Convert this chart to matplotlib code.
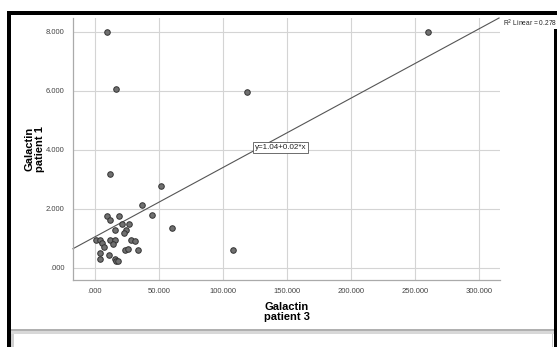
import numpy as np
import matplotlib
matplotlib.use("Agg")
import matplotlib.pyplot as plt
from matplotlib.patches import Rectangle

plt.rcParams["font.family"] = ["Liberation Sans", "DejaVu Sans"]

# ---- datos ----
galactin_p3 = [9.9, 16.9, 119.0, 260.0, 11.7, 52.1, 37.2, 45.0, 9.6, 12.0,
               19.0, 21.1, 26.6, 60.7, 16.1, 24.2, 22.9, 0.8, 3.9, 5.7,
               7.0, 12.0, 15.9, 14.3, 28.1, 31.5, 23.4, 26.3, 33.8, 4.2,
               3.9, 10.9, 15.6, 16.7, 18.5, 108.0]
galactin_p1 = [7.99, 6.04, 5.96, 7.99, 3.16, 2.76, 2.11, 1.77, 1.76, 1.60,
               1.76, 1.49, 1.49, 1.33, 1.27, 1.27, 1.16, 0.92, 0.92, 0.84,
               0.71, 0.93, 0.93, 0.81, 0.93, 0.90, 0.60, 0.64, 0.59, 0.50,
               0.29, 0.42, 0.29, 0.24, 0.21, 0.59]
x_ticks = [0, 50, 100, 150, 200, 250, 300]
y_ticks = [0, 2, 4, 6, 8]
intercept, slope = 1.04, 0.0235
eq_label = "y=1.04+0.02*x"
r2_label = "R$^2$ Linear = 0.278"

W, H = 557, 347
fig = plt.figure(figsize=(W / 100, H / 100), dpi=100)
ax = fig.add_axes([73 / W, 1 - 280 / H, 427 / W, 262 / H])

xlim = (-17, 316.5)
ylim = (-0.42, 8.46)
ax.set_xlim(xlim)
ax.set_ylim(ylim)

ax.set_xticks(x_ticks)
ax.set_xticklabels([".000" if t == 0 else f"{t}.000" for t in x_ticks])
ax.set_yticks(y_ticks)
ax.set_yticklabels([".000" if t == 0 else f"{t}.000" for t in y_ticks])
ax.tick_params(length=0, labelsize=5.5, colors="#444444", pad=6)
ax.grid(True, color="#d4d4d4", lw=0.8)
ax.set_axisbelow(True)
for s in ("top", "right"):
    ax.spines[s].set_visible(False)
for s in ("left", "bottom"):
    ax.spines[s].set_color("#aaaaaa")
    ax.spines[s].set_linewidth(0.9)

# recta de regresión
xx = np.array([xlim[0], (ylim[1] - intercept) / slope])
ax.plot(xx, intercept + slope * xx, color="#555555", lw=0.8, clip_on=False)

ax.scatter(galactin_p3, galactin_p1, s=16, facecolor="#707070",
           edgecolor="#333333", linewidth=0.7, zorder=3)

ax.text(145, 4.07, eq_label, fontsize=5.8, ha="center", va="center",
        color="#222222",
        bbox=dict(boxstyle="square,pad=0.25", fc="white", ec="#555555", lw=0.6))

ax.set_xlabel("Galactin\npatient 3", fontsize=8, fontweight="bold",
              linespacing=0.95, labelpad=5)
ax.set_ylabel("Galactin\npatient 1", fontsize=8, fontweight="bold",
              linespacing=0.95, labelpad=1)

# ---- marco tipo captura de pantalla ----
def px_rect(x0, y0, x1, y1, color):
    fig.add_artist(Rectangle((x0 / W, 1 - y1 / H), (x1 - x0) / W,
                             (y1 - y0) / H, transform=fig.transFigure,
                             facecolor=color, edgecolor="none", zorder=10))

px_rect(7, 11, 557, 15, "black")      # arriba
px_rect(7, 11, 11, 347, "black")      # izquierda
px_rect(554, 29, 557, 347, "black")   # derecha
px_rect(11, 329, 554, 331, "#b0b0b0") # sombra inferior
px_rect(11, 331, 554, 334, "#d8d8d8")
px_rect(11, 334, 14, 347, "#d0d0d0")
px_rect(552, 334, 553, 347, "#c8c8c8")

fig.text(503 / W, 1 - 23 / H, r2_label, fontsize=4.8, ha="left",
         va="center", color="#222222", zorder=11)

fig.savefig("out.png", dpi=100)
